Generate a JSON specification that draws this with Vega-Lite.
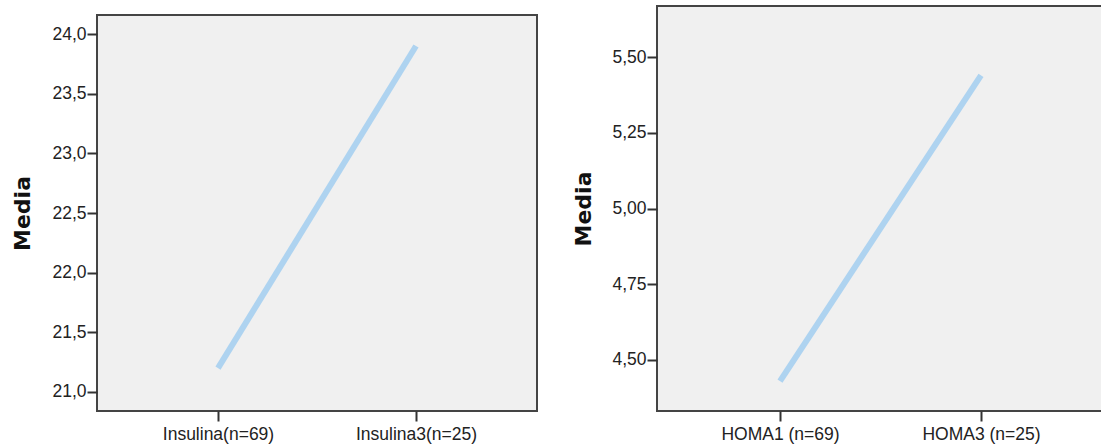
{
  "$schema": "https://vega.github.io/schema/vega-lite/v6.json",
  "padding": {"left": 10, "top": 5, "right": 0, "bottom": 0},
  "background": "white",
  "config": {
    "view": {"stroke": "#444444", "strokeWidth": 2, "fill": "#f0f0f0"},
    "axis": {
      "grid": false,
      "domain": false,
      "labelFont": "Liberation Sans",
      "labelFontSize": 17.5,
      "labelColor": "#222222",
      "tickColor": "#333333",
      "tickWidth": 2,
      "tickSize": 10,
      "titleFont": "DejaVu Sans",
      "titleFontWeight": "bold",
      "titleFontSize": 22,
      "titleColor": "#111111"
    }
  },
  "spacing": 33,
  "hconcat": [
    {
      "spacing": 0,
      "bounds": "flush",
      "vconcat": [
        {
          "width": 440,
          "height": 9,
          "data": {"values": [{}]},
          "mark": {"type": "point", "opacity": 0},
          "view": {"stroke": null, "fill": null}
        },
        {
          "width": 440,
          "height": 396,
          "data": {"values": [
            {"var": "Insulina(n=69)", "orden": 1, "media": 21.20},
            {"var": "Insulina3(n=25)", "orden": 2, "media": 23.90}
          ]},
          "mark": {"type": "line", "color": "#aed3f0", "strokeWidth": 6, "strokeCap": "butt"},
          "encoding": {
            "x": {"field": "var", "type": "nominal", "sort": {"field": "orden"},
                  "scale": {"type": "point", "padding": 0.611},
                  "axis": {"title": null, "labelAngle": 0, "labelPadding": 4}},
            "y": {"field": "media", "type": "quantitative",
                  "scale": {"domain": [20.84, 24.16], "nice": false, "zero": false},
                  "axis": {"title": "Media", "values": [21, 21.5, 22, 22.5, 23, 23.5, 24],
                           "labelExpr": "replace(format(datum.value, '.1f'), '.', ',')",
                           "labelPadding": 1, "titleX": -75, "titleBaseline": "middle"}}
          }
        }
      ]
    },
    {
      "width": 447,
      "height": 405,
      "data": {"values": [
        {"var": "HOMA1 (n=69)", "orden": 1, "media": 4.43},
        {"var": "HOMA3 (n=25)", "orden": 2, "media": 5.44}
      ]},
      "mark": {"type": "line", "color": "#aed3f0", "strokeWidth": 6, "strokeCap": "butt"},
      "encoding": {
        "x": {"field": "var", "type": "nominal", "sort": {"field": "orden"},
              "scale": {"type": "point", "padding": 0.612},
              "axis": {"title": null, "labelAngle": 0, "labelPadding": 4}},
        "y": {"field": "media", "type": "quantitative",
              "scale": {"domain": [4.331, 5.669], "nice": false, "zero": false},
              "axis": {"title": "Media", "values": [4.5, 4.75, 5, 5.25, 5.5],
                       "labelExpr": "replace(format(datum.value, '.2f'), '.', ',')",
                       "labelPadding": 1, "titleX": -74, "titleBaseline": "middle"}}
      }
    }
  ]
}
